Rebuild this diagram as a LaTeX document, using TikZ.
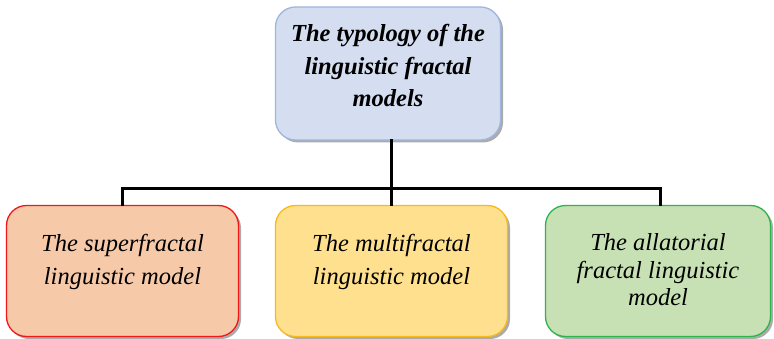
\documentclass[tikz,border=0pt]{standalone}
\usepackage{fontspec}
\setmainfont{Liberation Serif}
\usetikzlibrary{shadows}
\definecolor{topfill}{HTML}{D5DEF0}
\definecolor{topdraw}{HTML}{9FB6DE}
\definecolor{lfill}{HTML}{F6C9A9}
\definecolor{ldraw}{HTML}{F01818}
\definecolor{mfill}{HTML}{FEE08E}
\definecolor{mdraw}{HTML}{F7BA1E}
\definecolor{rfill}{HTML}{C7E1B5}
\definecolor{rdraw}{HTML}{2FB34D}
\tikzset{
  box/.style={rounded corners=20pt, line width=1.3pt,
    inner sep=0pt, drop shadow={shadow xshift=2.5pt, shadow yshift=-2.5pt, fill=black!55, opacity=0.6}},
  txt/.style={align=center, inner sep=0pt, font=\fontsize{24.5}{33}\selectfont\itshape},
  conn/.style={line width=3pt, line cap=rect}
}
\begin{document}
\begin{tikzpicture}[x=1pt,y=1pt]
\useasboundingbox (0,0) rectangle (774,338);
\node[box, fill=topfill, draw=topdraw, minimum width=225pt, minimum height=133pt] (top) at (388,264.5) {};
\node[box, fill=lfill, draw=ldraw, minimum width=232pt, minimum height=131pt] (left) at (122.5,67) {};
\node[box, fill=mfill, draw=mdraw, minimum width=232pt, minimum height=131pt] (mid) at (391.5,67) {};
\node[box, fill=rfill, draw=rdraw, minimum width=225pt, minimum height=131pt] (right) at (658,67) {};
\node[txt, font=\fontsize{24.5}{32.5}\selectfont\bfseries\itshape] (toptxt) at ([yshift=8pt]top.center)
  {The typology of the\\linguistic fractal\\models};
\node[txt] (lefttxt) at ([yshift=9.5pt]left.center) {The superfractal\\linguistic model};
\node[txt] (midtxt) at ([yshift=9.5pt]mid.center) {The multifractal\\linguistic model};
\node[txt, font=\fontsize{24.5}{27.5}\selectfont\itshape] (righttxt) at ([yshift=1pt]right.center)
  {The allatorial\\fractal linguistic\\model};
\coordinate (j) at (391.5,150);
\draw[conn] (top.south -| j) -- (j);
\draw[conn] (left.north) |- (j) -| ([xshift=2pt]right.north);
\draw[conn] (j) -- (mid.north);
\end{tikzpicture}
\end{document}
